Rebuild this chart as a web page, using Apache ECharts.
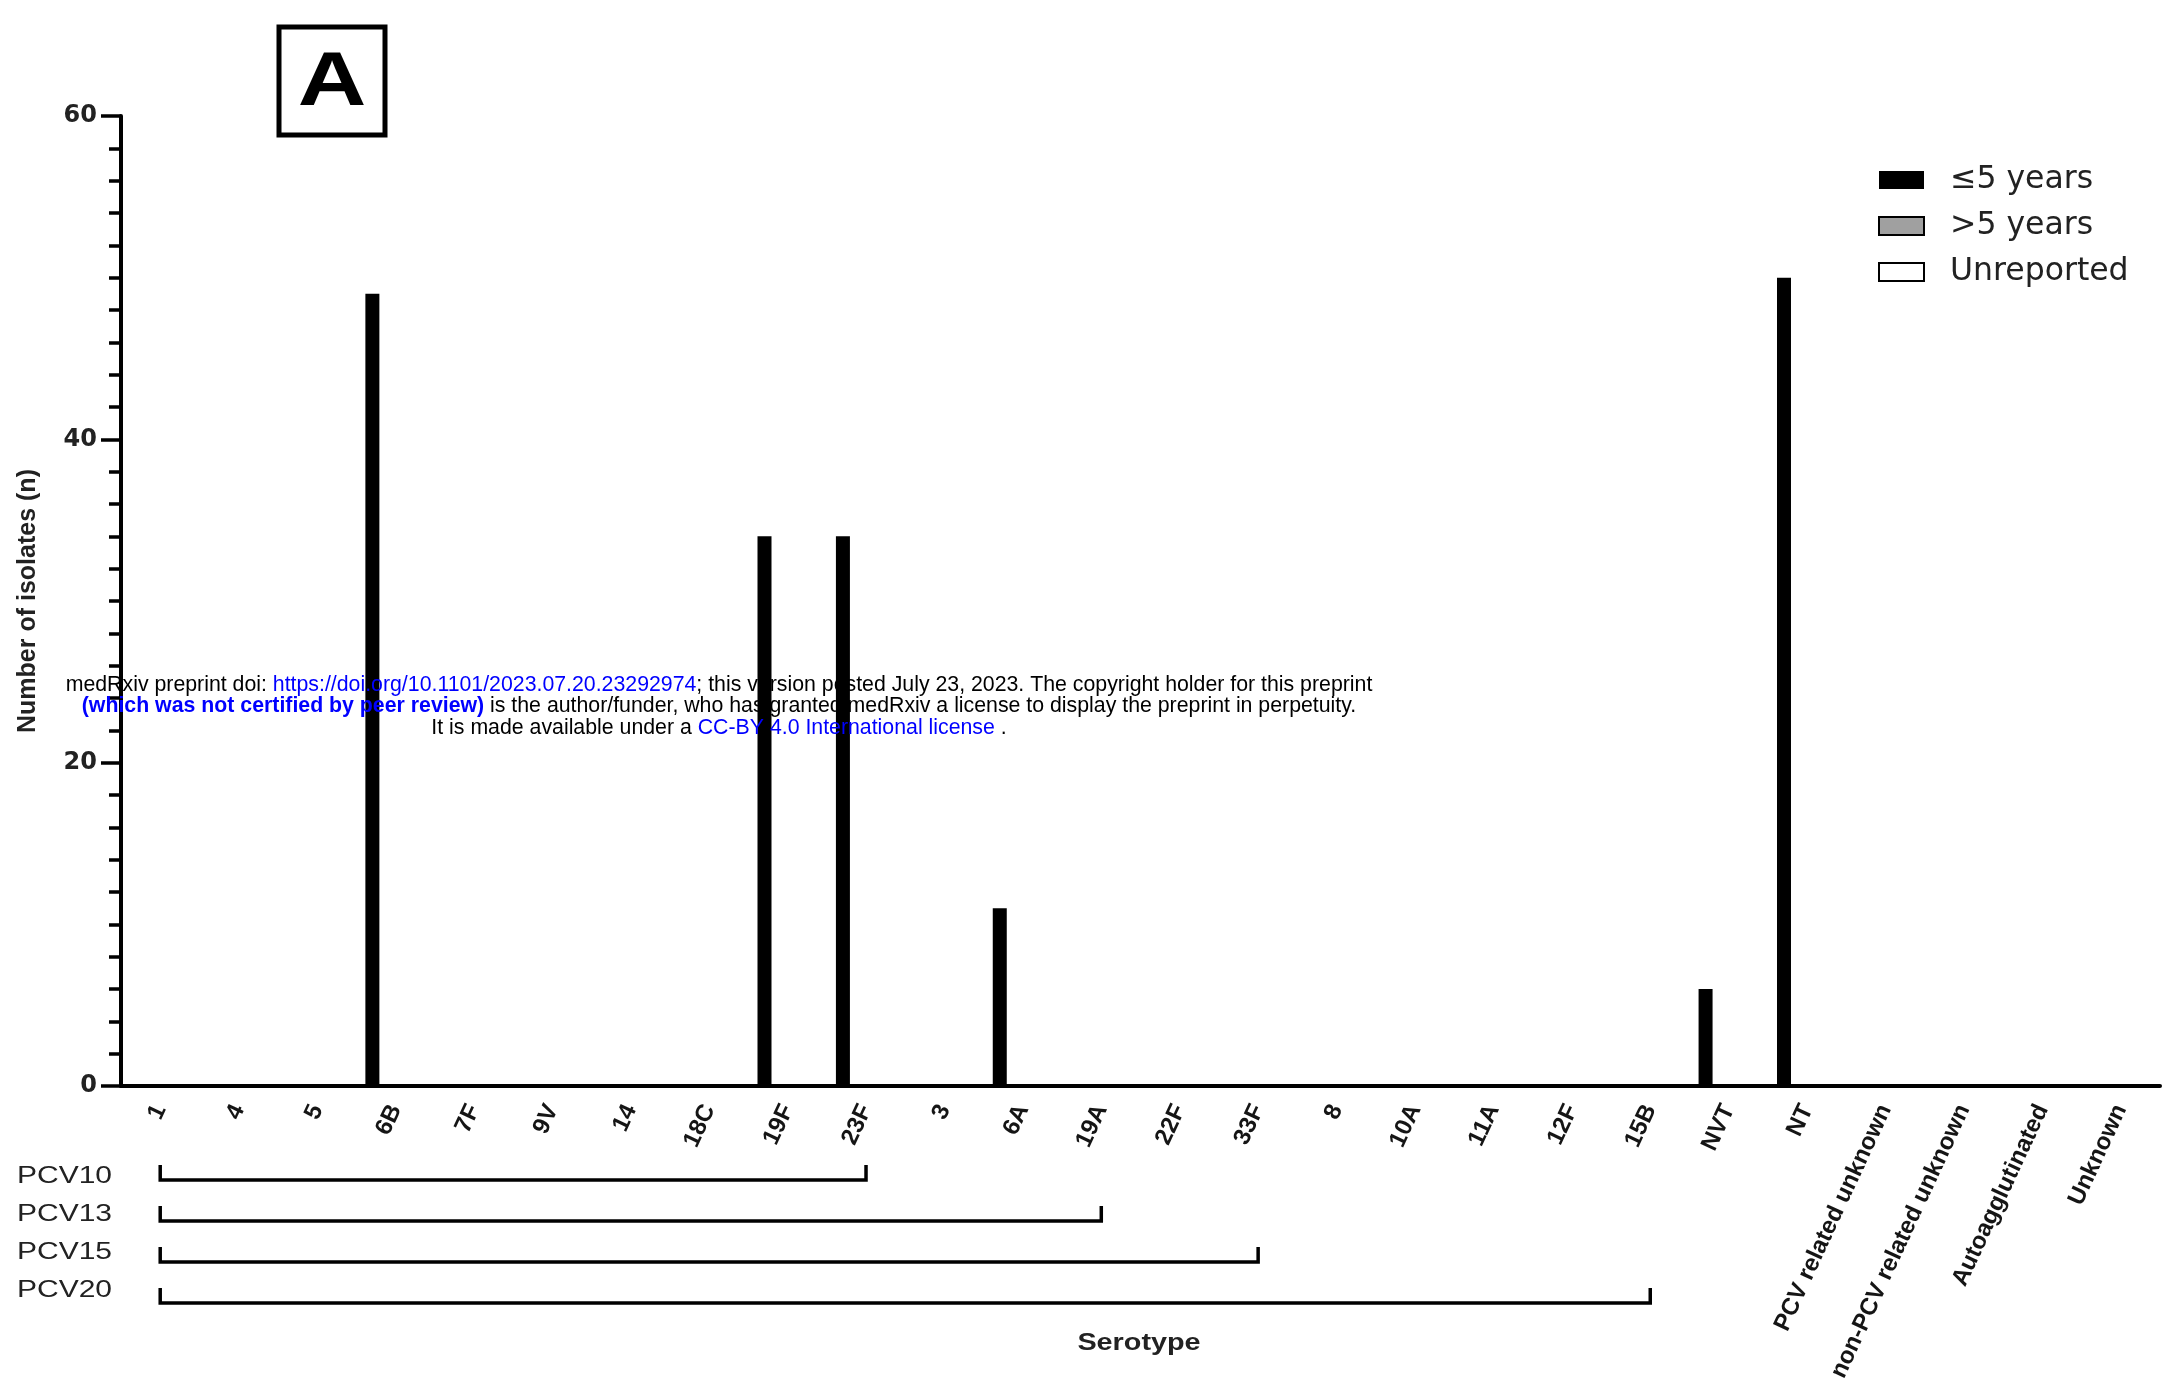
<!DOCTYPE html>
<html><head><meta charset="utf-8">
<script src="https://cdn.jsdelivr.net/npm/echarts@6/dist/echarts.min.js"></script>
<style>html,body{margin:0;padding:0;background:#fff}#c{width:2183px;height:1382px}</style>
</head><body><div id="c"></div>
<script>
const categories = ['1','4','5','6B','7F','9V','14','18C','19F','23F','3','6A','19A','22F','33F','8','10A','11A','12F','15B','NVT','NT','PCV related unknown','non-PCV related unknown','Autoagglutinated','Unknown'];
const under5 =     [0,0,0,49,0,0,0,0,34,34,0,11,0,0,0,0,0,0,0,0,6,50,0,0,0,0];
const over5 =      [0,0,0,0,0,0,0,0,0,0,0,0,0,0,0,0,0,0,0,0,0,0,0,0,0,0];
const unreported = [0,0,0,0,0,0,0,0,0,0,0,0,0,0,0,0,0,0,0,0,0,0,0,0,0,0];
const yTicks = [0,20,40,60];
const seriesNames = ['\u22645 years','>5 years','Unreported'];
const pcvNames = ['PCV10','PCV13','PCV15','PCV20'];
const pcvFirst = ['1','1','1','1'];
const pcvLast = ['23F','19A','33F','15B'];

const pcvData = pcvNames.map((n,i)=>[categories.indexOf(pcvFirst[i]), categories.indexOf(pcvLast[i]), i]);

const chart = echarts.init(document.getElementById('c'), null, {renderer:'canvas'});
const barCommon = {type:'bar', barWidth:14, barGap:'65%', animation:false};
const option = {
  backgroundColor:'#fff',
  animation:false,
  grid:{left:121,right:23,top:116,bottom:296,containLabel:false,outerBoundsMode:'none'},
  legend:{
    orient:'vertical', left:1873, top:159, itemWidth:45, itemHeight:18, itemGap:14, icon:'rect',
    data:seriesNames,
    textStyle:{fontFamily:'DejaVu Sans', fontSize:31.5, color:'#222', lineHeight:31, padding:[0,0,0,21]}
  },
  xAxis:{
    type:'category', data:categories,
    axisLine:{lineStyle:{color:'#000',width:4}},
    axisTick:{alignWithLabel:true,length:15,lineStyle:{color:'#000',width:3.5}},
    axisLabel:{interval:0,rotate:65,margin:20,fontFamily:'Liberation Sans',fontWeight:'bold',fontSize:24,color:'#151515'}
  },
  yAxis:{
    type:'value', min:yTicks[0], max:yTicks[yTicks.length-1], interval:yTicks[1]-yTicks[0],
    splitLine:{show:false},
    axisLine:{show:true,lineStyle:{color:'#000',width:4}},
    axisTick:{show:true,length:20,lineStyle:{color:'#000',width:3.5}},
    minorTick:{show:true,splitNumber:10,length:12,lineStyle:{color:'#000',width:3.5}},
    axisLabel:{margin:24,fontFamily:'DejaVu Sans',fontWeight:'bold',fontSize:24,color:'#222'},
    name:'Number of isolates (n)', nameLocation:'middle', nameRotate:90, nameGap:80,
    nameTextStyle:{fontFamily:'Liberation Sans',fontWeight:'bold',fontSize:25,color:'#222'}
  },
  series:[
    Object.assign({name:seriesNames[0],data:under5,itemStyle:{color:'#000'}},barCommon),
    Object.assign({name:seriesNames[1],data:over5,itemStyle:{color:'#a0a0a0',borderColor:'#000',borderWidth:4}},barCommon),
    Object.assign({name:seriesNames[2],data:unreported,itemStyle:{color:'#fff',borderColor:'#000',borderWidth:4}},barCommon),
    {
      type:'custom', name:'pcv', data:pcvData, encode:{x:[0,1],y:2}, clip:false, silent:true, z:5,
      renderItem:function(params, api){
        const x1 = api.coord([api.value(0),0])[0];
        const x2 = api.coord([api.value(1),0])[0];
        const base = api.coord([0,0])[1];
        const row = api.value(2);
        const y = base + 94 + 41*row;
        const ty = base + 90 + 38*row;
        return {type:'group', children:[
          {type:'polyline', shape:{points:[[x1,y-15],[x1,y],[x2,y],[x2,y-15]]}, style:{stroke:'#000',lineWidth:3.5,fill:null}},
          {type:'text', x:17, y:ty, scaleX:1.25, style:{text:pcvNames[row], fontFamily:'Liberation Sans', fontSize:24, fill:'#222', textAlign:'left', textVerticalAlign:'middle'}}
        ]};
      }
    }
  ],
  graphic:[
    {type:'rect', shape:{x:279,y:27,width:106,height:108}, style:{fill:'none',stroke:'#000',lineWidth:5}, z:10},
    {type:'text', x:332, y:84, scaleX:1.25, style:{text:'A', fontFamily:'Liberation Sans', fontWeight:'bold', fontSize:76, fill:'#000', textAlign:'center', textVerticalAlign:'middle'}, z:10},
    {type:'text', x:1139, y:1343, scaleX:1.2, style:{text:'Serotype', fontFamily:'Liberation Sans', fontWeight:'bold', fontSize:24, fill:'#222', textAlign:'center', textVerticalAlign:'middle'}, z:10},
    {type:'text', x:719, y:685, z:20, style:{textAlign:'center', textVerticalAlign:'middle', fontFamily:'Liberation Sans', fontSize:21.3, fill:'#000',
      rich:{b:{fill:'#0000ff',fontFamily:'Liberation Sans',fontSize:21.3}, k:{fill:'#000',fontFamily:'Liberation Sans',fontSize:21.3}},
      text:'{k|medRxiv preprint doi: }{b|https://doi.org/10.1101/2023.07.20.23292974}{k|; this version posted July 23, 2023. The copyright holder for this preprint}'}},
    {type:'text', x:719, y:706, z:20, style:{textAlign:'center', textVerticalAlign:'middle', fontFamily:'Liberation Sans', fontSize:21.3, fill:'#000',
      rich:{bb:{fill:'#0000ff',fontWeight:'bold',fontFamily:'Liberation Sans',fontSize:21.3}, k:{fill:'#000',fontFamily:'Liberation Sans',fontSize:21.3}},
      text:'{bb|(which was not certified by peer review)}{k| is the author/funder, who has granted medRxiv a license to display the preprint in perpetuity.}'}},
    {type:'text', x:719, y:728, z:20, style:{textAlign:'center', textVerticalAlign:'middle', fontFamily:'Liberation Sans', fontSize:21.3, fill:'#000',
      rich:{b:{fill:'#0000ff',fontFamily:'Liberation Sans',fontSize:21.3}, k:{fill:'#000',fontFamily:'Liberation Sans',fontSize:21.3}},
      text:'{k|It is made available under a }{b|CC-BY 4.0 International license}{k| .}'}}
  ]
};
chart.setOption(option);
</script></body></html>
